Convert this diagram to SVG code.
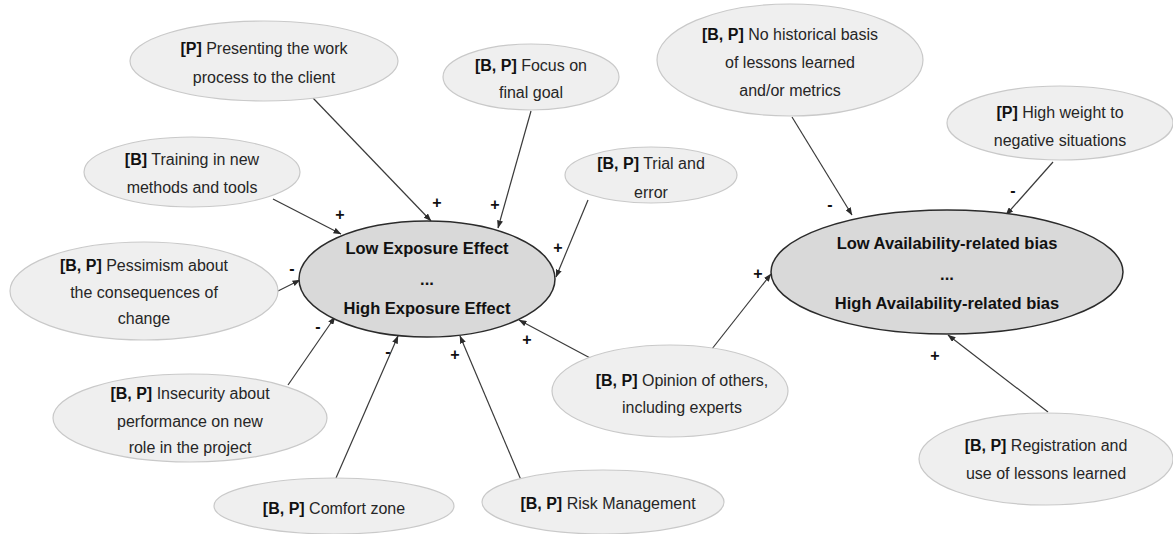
<svg xmlns="http://www.w3.org/2000/svg" width="1173" height="534" viewBox="0 0 1173 534">
  <style>
    .factor { fill: #efefef; stroke: #c9c9c9; stroke-width: 1.2; }
    .core { fill: #d9d9d9; stroke: #2b2b2b; stroke-width: 1.5; }
    text { font-family: "Liberation Sans", Arial, sans-serif; font-size: 16px; fill: #262626; text-anchor: middle; }
    .b { font-weight: bold; fill: #111; }
    .core-t { font-weight: bold; font-size: 16.5px; fill: #111; }
    .sign { font-weight: bold; font-size: 16px; fill: #111; }
    .link { stroke: #3a3a3a; stroke-width: 1.2; fill: none; marker-end: url(#tip); }
  </style>
  <defs>
    <marker id="tip" markerUnits="userSpaceOnUse" markerWidth="8" markerHeight="6" refX="7.5" refY="3" orient="auto">
      <path d="M0,0 L8,3 L0,6 Z" fill="#2b2b2b"/>
    </marker>
  </defs>
  <rect width="1173" height="534" fill="#ffffff"/>

  <!-- connectors -->
  <g id="connectors">
    <line class="link" x1="313" y1="98" x2="431" y2="221"/>
    <line class="link" x1="273" y1="199" x2="341" y2="234"/>
    <line class="link" x1="531" y1="111" x2="498" y2="228"/>
    <line class="link" x1="588" y1="200" x2="556" y2="277"/>
    <line class="link" x1="278" y1="291" x2="300" y2="280"/>
    <line class="link" x1="288" y1="385" x2="335" y2="317"/>
    <line class="link" x1="336" y1="478" x2="398" y2="336"/>
    <line class="link" x1="521" y1="480" x2="460" y2="336"/>
    <line class="link" x1="592" y1="359" x2="519" y2="320"/>
    <line class="link" x1="708" y1="354" x2="771" y2="274"/>
    <line class="link" x1="792" y1="117" x2="852" y2="215"/>
    <line class="link" x1="1053" y1="162" x2="1006" y2="215"/>
    <line class="link" x1="1048" y1="412" x2="948" y2="335"/>
    <!-- polarity signs -->
    <text class="sign" x="437" y="208">+</text>
    <text class="sign" x="340" y="220">+</text>
    <text class="sign" x="495" y="210">+</text>
    <text class="sign" x="558" y="253">+</text>
    <text class="sign" x="292" y="274">-</text>
    <text class="sign" x="318" y="332">-</text>
    <text class="sign" x="388" y="357">-</text>
    <text class="sign" x="455" y="360">+</text>
    <text class="sign" x="527" y="345">+</text>
    <text class="sign" x="758" y="279">+</text>
    <text class="sign" x="830" y="210">-</text>
    <text class="sign" x="1013" y="196">-</text>
    <text class="sign" x="935" y="361">+</text>
  </g>

  <!-- central variables -->
  <g id="exposure-effect">
    <ellipse class="core" cx="427" cy="279" rx="128" ry="58"/>
    <text class="core-t" x="427" y="254">Low Exposure Effect</text>
    <text class="core-t" x="427" y="285">...</text>
    <text class="core-t" x="427" y="314">High Exposure Effect</text>
  </g>
  <g id="availability-bias">
    <ellipse class="core" cx="947" cy="272" rx="176" ry="62"/>
    <text class="core-t" x="947" y="249">Low Availability-related bias</text>
    <text class="core-t" x="947" y="280">...</text>
    <text class="core-t" x="947" y="309">High Availability-related bias</text>
  </g>

  <!-- influencing factors -->
  <g id="presenting-work">
    <ellipse class="factor" cx="264" cy="61" rx="134" ry="40"/>
    <text x="264" y="54"><tspan class="b">[P]</tspan> Presenting the work</text>
    <text x="264" y="83">process to the client</text>
  </g>
  <g id="training">
    <ellipse class="factor" cx="192" cy="172" rx="108" ry="35"/>
    <text x="192" y="165"><tspan class="b">[B]</tspan> Training in new</text>
    <text x="192" y="193">methods and tools</text>
  </g>
  <g id="focus-goal">
    <ellipse class="factor" cx="531" cy="77" rx="88" ry="33"/>
    <text x="531" y="71"><tspan class="b">[B, P]</tspan> Focus on</text>
    <text x="531" y="98">final goal</text>
  </g>
  <g id="no-historical-basis">
    <ellipse class="factor" cx="790" cy="60" rx="133" ry="56"/>
    <text x="790" y="40"><tspan class="b">[B, P]</tspan> No historical basis</text>
    <text x="790" y="68">of lessons learned</text>
    <text x="790" y="96">and/or metrics</text>
  </g>
  <g id="trial-error">
    <ellipse class="factor" cx="651" cy="175" rx="86" ry="28"/>
    <text x="651" y="169"><tspan class="b">[B, P]</tspan> Trial and</text>
    <text x="651" y="198">error</text>
  </g>
  <g id="negative-weight">
    <ellipse class="factor" cx="1060" cy="123" rx="113" ry="37"/>
    <text x="1060" y="118"><tspan class="b">[P]</tspan> High weight to</text>
    <text x="1060" y="146">negative situations</text>
  </g>
  <g id="pessimism">
    <ellipse class="factor" cx="144" cy="291" rx="134" ry="49"/>
    <text x="144" y="271"><tspan class="b">[B, P]</tspan> Pessimism about</text>
    <text x="144" y="298">the consequences of</text>
    <text x="144" y="324">change</text>
  </g>
  <g id="insecurity">
    <ellipse class="factor" cx="190" cy="418" rx="137" ry="44"/>
    <text x="190" y="399"><tspan class="b">[B, P]</tspan> Insecurity about</text>
    <text x="190" y="427">performance on new</text>
    <text x="190" y="453">role in the project</text>
  </g>
  <g id="comfort-zone">
    <ellipse class="factor" cx="334" cy="506" rx="120" ry="28"/>
    <text x="334" y="514"><tspan class="b">[B, P]</tspan> Comfort zone</text>
  </g>
  <g id="risk-management">
    <ellipse class="factor" cx="603" cy="502" rx="121" ry="32"/>
    <text x="608" y="509"><tspan class="b">[B, P]</tspan> Risk Management</text>
  </g>
  <g id="opinion-others">
    <ellipse class="factor" cx="670" cy="391" rx="118" ry="46"/>
    <text x="682" y="386"><tspan class="b">[B, P]</tspan> Opinion of others,</text>
    <text x="682" y="413">including experts</text>
  </g>
  <g id="lessons-registration">
    <ellipse class="factor" cx="1046" cy="459" rx="127" ry="46"/>
    <text x="1046" y="451"><tspan class="b">[B, P]</tspan> Registration and</text>
    <text x="1046" y="479">use of lessons learned</text>
  </g>
</svg>
